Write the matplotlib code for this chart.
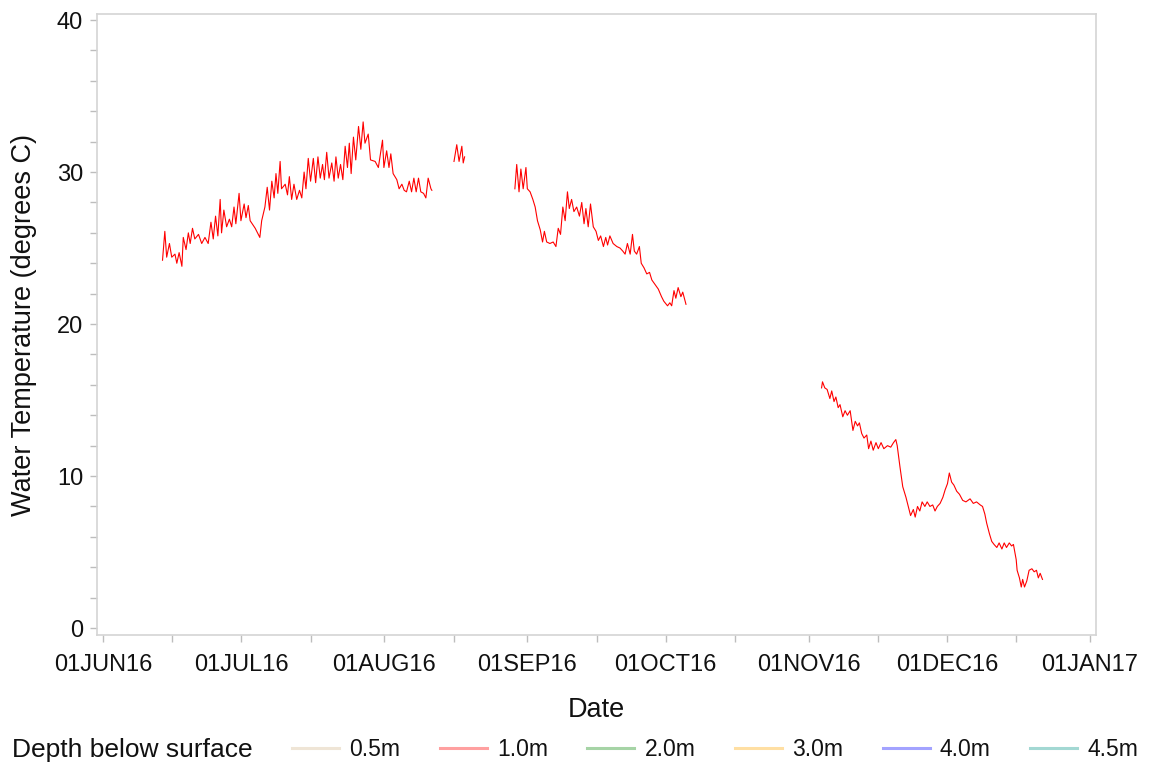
import datetime as dt

import matplotlib
matplotlib.use("Agg")
import matplotlib.pyplot as plt
import matplotlib.dates as mdates
from matplotlib.lines import Line2D
from matplotlib.ticker import MultipleLocator, FuncFormatter

plt.rcParams['font.family'] = ['Liberation Sans', 'DejaVu Sans']

START = dt.datetime(2016, 6, 1)

# Depth legend entries
depth_labels = ["0.5m", "1.0m", "2.0m", "3.0m", "4.0m", "4.5m"]
depth_colors = ["#efe5d6", "#ffa0a0", "#a6d4a6", "#ffdfa3", "#a3a3ff", "#a3d8d3"]

# 1.0 m logger record (days after 01JUN16, degrees C), one list per continuous run
seg1_days = [12.9, 13.4, 13.8, 14.4, 14.9, 15.6, 16.0, 16.5, 17.1, 17.4,
             18.0, 18.5, 18.9, 19.4, 19.9, 20.7, 21.4, 22.1, 22.8, 23.4,
             23.9, 24.4, 24.9, 25.4, 25.7, 26.2, 26.8, 27.4, 27.9, 28.4,
             28.8, 29.5, 29.9, 30.6, 31.0, 31.5, 31.9, 33.0, 34.0, 34.4,
             35.1, 35.6, 36.1, 36.6, 37.1, 37.5, 37.9, 38.4, 38.7, 39.5,
             40.0, 40.4, 40.9, 41.4, 42.0, 42.6, 43.1, 43.6, 44.0, 44.5,
             45.0, 45.6, 46.1, 46.6, 47.1, 47.6, 48.0, 48.5, 49.0, 49.6,
             50.1, 50.5, 51.0, 51.5, 52.0, 52.5, 53.0, 53.4, 53.8, 54.3,
             54.8, 55.4, 55.9, 56.4, 56.8, 57.5, 58.0, 59.0, 59.7, 60.6,
             60.9, 61.5, 62.0, 62.4, 62.9, 63.7, 64.2, 64.8, 65.3, 65.8,
             66.4, 66.9, 67.4, 67.9, 68.4, 68.9, 69.5, 70.0, 70.5, 71.1,
             71.3]
seg1_temp = [24.2, 26.1, 24.4, 25.3, 24.4, 24.6, 24.0, 24.7, 23.8, 25.7,
             24.9, 26.0, 25.3, 26.3, 25.6, 25.9, 25.3, 25.7, 25.3, 26.7,
             25.6, 27.1, 25.8, 28.2, 26.0, 27.5, 26.4, 26.9, 26.4, 27.7,
             26.6, 28.6, 26.8, 27.9, 27.0, 27.8, 26.8, 26.3, 25.7, 26.8,
             27.7, 29.0, 27.5, 29.4, 28.3, 29.9, 28.6, 30.7, 28.9, 29.2,
             28.5, 29.7, 28.2, 29.2, 28.2, 28.8, 28.3, 30.0, 28.9, 30.9,
             29.4, 30.9, 29.3, 31.0, 29.6, 30.5, 29.5, 31.3, 29.6, 30.6,
             29.4, 31.0, 29.6, 30.5, 29.5, 31.7, 30.3, 31.9, 29.9, 32.3,
             30.8, 33.0, 31.5, 33.3, 31.9, 32.5, 30.8, 30.7, 30.3, 32.1,
             30.3, 31.4, 30.3, 31.2, 29.9, 29.5, 28.9, 29.2, 28.8, 28.7,
             29.4, 28.7, 29.6, 28.7, 29.6, 28.7, 28.6, 28.3, 29.6, 28.9,
             28.8]

seg2_days = [76.1, 76.7, 77.2, 77.8, 78.1, 78.4]
seg2_temp = [30.7, 31.8, 30.7, 31.7, 30.6, 31.0]

seg3_days = [89.3, 89.7, 90.2, 90.6, 91.1, 91.7, 92.0, 92.6, 93.2, 93.7,
             94.2, 94.8, 95.3, 95.7, 96.2, 96.9, 97.6, 98.2, 98.7, 99.2,
             99.7, 100.2, 100.7, 101.1, 101.6, 102.1, 102.7, 103.3, 103.8, 104.3,
             104.7, 105.2, 105.7, 106.3, 106.9, 107.4, 107.9, 108.5, 109.0, 109.4,
             109.9, 110.6, 111.4, 112.1, 112.7, 113.2, 113.7, 114.3, 114.8, 115.2,
             115.7, 116.3, 116.7, 117.3, 117.9, 118.5, 119.0, 119.7, 120.4, 121.1,
             121.6, 122.4, 122.9, 123.3, 123.8, 124.2, 124.7, 125.3, 125.7, 126.4]
seg3_temp = [28.9, 30.5, 28.7, 30.2, 28.9, 30.3, 28.9, 28.7, 28.2, 27.7,
             26.8, 26.2, 25.4, 26.1, 25.4, 25.3, 25.4, 25.1, 26.3, 25.9,
             27.7, 26.8, 28.7, 27.6, 28.2, 27.4, 27.7, 27.1, 28.0, 26.6,
             27.6, 26.4, 27.9, 26.4, 26.1, 25.5, 25.8, 25.1, 25.7, 25.2,
             25.8, 25.3, 25.1, 25.0, 24.8, 24.6, 25.3, 24.6, 25.9, 24.8,
             24.6, 25.1, 24.0, 23.7, 23.3, 23.4, 22.9, 22.6, 22.3, 21.8,
             21.5, 21.2, 21.4, 21.2, 22.2, 21.7, 22.4, 21.8, 22.1, 21.3]

seg4_days = [155.8, 156.0, 156.5, 157.0, 157.6, 158.0, 158.5, 158.9, 159.4, 159.8,
             160.4, 160.9, 161.4, 162.0, 162.6, 163.1, 163.6, 164.0, 164.5, 165.0,
             165.6, 166.0, 166.5, 167.0, 167.6, 168.1, 168.7, 169.3, 170.1, 170.8,
             171.4, 171.9, 172.2, 172.8, 173.4, 174.1, 174.6, 175.1, 175.7, 176.1,
             176.6, 177.1, 177.6, 178.2, 178.7, 179.3, 179.9, 180.4, 180.9, 181.5,
             182.1, 182.6, 183.1, 183.5, 184.0, 184.5, 185.1, 185.7, 186.4, 187.1,
             188.0, 188.7, 189.4, 190.2, 190.7, 191.2, 191.6, 192.2, 192.7, 193.2,
             193.8, 194.3, 194.9, 195.4, 195.9, 196.5, 197.0, 197.4, 198.0, 198.2,
             198.7, 199.1, 199.4, 199.8, 200.3, 200.8, 201.4, 201.9, 202.4, 202.8,
             203.2, 203.7]
seg4_temp = [15.8, 16.2, 15.8, 15.7, 15.1, 15.6, 14.9, 15.2, 14.5, 14.7,
             13.9, 14.3, 14.0, 14.3, 13.0, 13.6, 13.3, 13.5, 12.8, 12.5,
             12.7, 11.8, 12.3, 11.7, 12.2, 11.8, 12.2, 11.8, 12.0, 11.9,
             12.2, 12.4, 12.0, 10.6, 9.3, 8.6, 8.0, 7.4, 7.8, 7.3,
             8.0, 7.7, 8.3, 8.0, 8.3, 8.0, 8.1, 7.7, 8.0, 8.2,
             8.6, 9.1, 9.5, 10.2, 9.6, 9.4, 9.0, 8.8, 8.4, 8.3,
             8.5, 8.2, 8.3, 8.1, 8.0, 7.5, 6.9, 6.2, 5.7, 5.5,
             5.3, 5.6, 5.2, 5.6, 5.3, 5.6, 5.4, 5.5, 4.5, 3.8,
             3.3, 2.7, 3.2, 2.7, 3.1, 3.8, 3.9, 3.7, 3.8, 3.3,
             3.6, 3.2]

segments = [(seg1_days, seg1_temp), (seg2_days, seg2_temp),
            (seg3_days, seg3_temp), (seg4_days, seg4_temp)]


def to_dates(days):
    return [START + dt.timedelta(days=d) for d in days]


frame_gray = "#d4d4d4"
tick_gray = "#bdbdbd"

fig = plt.figure(figsize=(11.51, 7.65), dpi=100)
ax = fig.add_axes([0.0843, 0.1699, 0.8679, 0.8118])

for days, temps in segments:
    ax.plot(to_dates(days), temps, color="#ff0000", lw=0.8, solid_joinstyle="round")

ax.set_xlim(START - dt.timedelta(days=1.3), START + dt.timedelta(days=215.3))
ax.set_ylim(-0.46, 40.4)

ax.xaxis.set_major_locator(mdates.MonthLocator(bymonthday=1))
ax.xaxis.set_minor_locator(mdates.MonthLocator(bymonthday=16))
ax.xaxis.set_major_formatter(
    FuncFormatter(lambda v, p: mdates.num2date(v).strftime("%d%b%y").upper()))
ax.yaxis.set_major_locator(MultipleLocator(10))
ax.yaxis.set_minor_locator(MultipleLocator(2))

for sp in ax.spines.values():
    sp.set_color(frame_gray)
    sp.set_linewidth(1.2)

ax.tick_params(axis="both", which="major", direction="out", length=5,
               width=1, color=tick_gray, labelsize=17, labelcolor="#111111")
ax.tick_params(axis="x", which="major", pad=9)
ax.tick_params(axis="y", which="major", pad=5)
ax.tick_params(axis="both", which="minor", direction="out", length=5,
               width=1, color=tick_gray)

ax.set_xlabel("Date", fontsize=19.5, color="#111111")
ax.set_ylabel("Water Temperature (degrees C)", fontsize=19.5, color="#111111")
ax.xaxis.set_label_coords(0.5, -0.0998)
ax.yaxis.set_label_coords(-0.060, 0.5)

# Legend row along the bottom
fig.text(12 / 1151, 1 - 750 / 765, "Depth below surface", fontsize=19,
         ha="left", va="center", color="#111111")
handles = [Line2D([], [], color=c, lw=2.2) for c in depth_colors]
fig.legend(handles, depth_labels, loc="center left",
           bbox_to_anchor=(292 / 1151, 1 - 750 / 765), ncol=6, frameon=False,
           fontsize=16.5, handlelength=2.05, handletextpad=0.45,
           columnspacing=1.72, borderpad=0, borderaxespad=0,
           labelcolor="#111111")

fig.savefig("out.png", dpi=100)
